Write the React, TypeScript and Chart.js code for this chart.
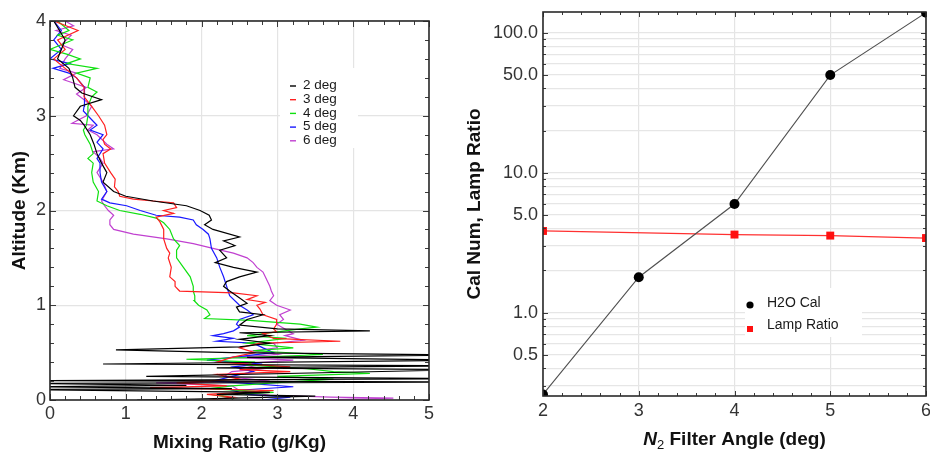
import { useEffect, useRef } from 'react';
import { Chart, registerables } from 'chart.js';

Chart.register(...registerables);

const FONT = '"Liberation Sans", Arial, Helvetica, sans-serif';

// ---------------- Left panel data: [mixing ratio g/kg, altitude km] ----------------
const profileLabels = ['2 deg', '3 deg', '4 deg', '5 deg', '6 deg'];
const profileColors = ['#000000', '#ff2020', '#10e010', '#1818ff', '#c040d0'];

const deg2 = [
  [1.15, 0.0], [1.9, 0.01], [3.5, 0.04], [2.2, 0.06], [2.9, 0.08], [-0.3, 0.11], [2.4, 0.12], [-0.3, 0.14],
  [1.8, 0.155], [-0.3, 0.175], [5.5, 0.19], [-0.3, 0.205], [5.5, 0.225], [1.27, 0.25], [3.75, 0.29], [5.5, 0.32],
  [2.2, 0.34], [5.5, 0.36], [0.7, 0.38], [5.5, 0.42], [2.6, 0.45], [5.5, 0.475], [2.4, 0.5], [0.87, 0.53],
  [2.5, 0.56], [2.9, 0.6], [2.5, 0.64], [2.9, 0.68], [2.5, 0.71], [4.22, 0.73], [3.0, 0.75], [2.5, 0.79],
  [2.6, 0.85], [2.81, 0.9], [2.5, 0.93], [2.46, 0.98], [2.6, 1.02], [2.46, 1.1], [2.37, 1.15], [2.29, 1.2],
  [2.33, 1.25], [2.5, 1.3], [2.73, 1.35], [2.42, 1.4], [2.18, 1.45], [2.33, 1.5], [2.24, 1.58], [2.44, 1.63],
  [2.29, 1.68], [2.5, 1.72], [2.15, 1.8], [2.04, 1.85], [2.13, 1.9], [2.1, 1.95], [1.98, 2.0], [1.8, 2.05],
  [1.36, 2.1], [1.0, 2.15], [0.84, 2.2], [0.7, 2.3], [0.75, 2.4], [0.68, 2.5], [0.62, 2.6], [0.58, 2.7],
  [0.53, 2.8], [0.45, 2.9], [0.4, 2.95], [0.31, 3.0], [0.4, 3.1], [0.68, 3.17], [0.42, 3.24], [0.33, 3.3],
  [0.3, 3.4], [0.25, 3.5], [0.1, 3.6], [0.2, 3.8], [0.05, 4.0],
];

const deg3 = [
  [2.1, 0.0], [2.42, 0.03], [2.07, 0.06], [2.95, 0.1], [1.32, 0.13], [2.33, 0.15], [1.67, 0.18], [2.5, 0.22],
  [2.2, 0.27], [3.17, 0.3], [2.5, 0.32], [3.17, 0.35], [2.2, 0.4], [2.4, 0.45], [2.7, 0.5], [2.5, 0.55],
  [2.77, 0.6], [3.83, 0.62], [2.95, 0.65], [2.81, 0.7], [2.99, 0.72], [2.95, 0.75], [2.99, 0.8], [2.99, 0.85],
  [2.81, 0.9], [2.77, 0.96], [2.73, 1.0], [2.84, 1.03], [2.6, 1.06], [2.73, 1.1], [2.42, 1.13], [1.71, 1.15],
  [1.65, 1.2], [1.65, 1.25], [1.58, 1.3], [1.6, 1.4], [1.56, 1.5], [1.58, 1.55], [1.54, 1.6], [1.5, 1.7],
  [1.5, 1.8], [1.45, 1.88], [1.4, 1.93], [1.63, 1.97], [1.5, 2.0], [1.67, 2.03], [1.63, 2.08], [1.36, 2.1],
  [1.1, 2.12], [0.92, 2.15], [0.9, 2.2], [0.85, 2.25], [0.86, 2.33], [0.8, 2.4], [0.72, 2.5], [0.7, 2.6],
  [0.8, 2.65], [0.72, 2.7], [0.7, 2.75], [0.75, 2.8], [0.72, 2.9], [0.64, 3.0], [0.55, 3.1], [0.45, 3.2],
  [0.45, 3.3], [0.35, 3.4], [0.2, 3.5], [0.05, 3.6], [0.2, 3.7], [0.1, 3.8], [0.37, 3.9], [0.05, 4.0],
];

const deg4 = [
  [2.4, 0.0], [2.42, 0.02], [2.2, 0.05], [2.95, 0.08], [2.11, 0.12], [2.4, 0.15], [2.95, 0.18], [3.74, 0.22],
  [3.0, 0.25], [4.22, 0.28], [3.74, 0.3], [3.39, 0.33], [2.6, 0.37], [2.68, 0.4], [1.8, 0.43], [2.7, 0.45],
  [3.6, 0.48], [2.68, 0.52], [3.21, 0.55], [2.6, 0.6], [3.12, 0.65], [2.6, 0.68], [3.0, 0.72], [3.3, 0.75],
  [3.52, 0.77], [3.3, 0.8], [2.99, 0.82], [2.64, 0.84], [2.04, 0.86], [2.11, 0.9], [2.07, 0.95], [1.96, 1.0],
  [1.9, 1.05], [1.91, 1.1], [1.89, 1.15], [1.89, 1.2], [1.85, 1.3], [1.76, 1.4], [1.67, 1.5], [1.67, 1.58],
  [1.71, 1.63], [1.63, 1.7], [1.58, 1.8], [1.5, 1.87], [1.4, 1.92], [1.19, 1.96], [0.92, 2.0], [0.75, 2.05],
  [0.62, 2.1], [0.64, 2.2], [0.57, 2.3], [0.55, 2.4], [0.57, 2.5], [0.5, 2.55], [0.57, 2.6], [0.53, 2.7],
  [0.46, 2.8], [0.44, 2.85], [0.48, 2.9], [0.5, 3.0], [0.5, 3.1], [0.55, 3.2], [0.62, 3.25], [0.5, 3.3],
  [0.53, 3.4], [0.35, 3.45], [0.62, 3.5], [0.22, 3.55], [0.4, 3.6], [0.22, 3.65], [0.0, 3.7], [0.3, 3.8],
  [0.1, 3.85], [0.25, 3.9], [0.1, 4.0],
];

const deg5 = [
  [2.8, 0.0], [3.17, 0.03], [2.6, 0.06], [2.42, 0.1], [3.21, 0.14], [2.7, 0.17], [2.15, 0.2], [2.4, 0.25],
  [2.68, 0.3], [2.42, 0.35], [2.8, 0.38], [2.07, 0.42], [2.4, 0.45], [2.95, 0.5], [2.81, 0.55], [2.68, 0.6],
  [2.2, 0.62], [2.42, 0.65], [2.15, 0.68], [2.29, 0.7], [2.42, 0.73], [2.5, 0.77], [2.46, 0.8], [2.5, 0.85],
  [2.68, 0.9], [2.6, 0.95], [2.5, 1.0], [2.37, 1.1], [2.33, 1.2], [2.29, 1.3], [2.24, 1.4], [2.2, 1.5],
  [2.13, 1.6], [2.11, 1.7], [2.09, 1.75], [2.02, 1.8], [1.93, 1.85], [1.89, 1.9], [1.71, 1.93], [1.4, 1.95],
  [1.19, 2.0], [1.01, 2.05], [0.79, 2.08], [0.68, 2.12], [0.75, 2.2], [0.68, 2.3], [0.66, 2.4], [0.66, 2.5],
  [0.62, 2.55], [0.7, 2.65], [0.62, 2.72], [0.7, 2.8], [0.53, 2.85], [0.62, 2.9], [0.5, 3.0], [0.44, 3.05],
  [0.45, 3.1], [0.46, 3.2], [0.45, 3.3], [0.35, 3.4], [0.25, 3.45], [0.04, 3.5], [0.26, 3.55], [0.0, 3.6],
  [0.15, 3.7], [0.05, 3.8], [0.15, 3.9], [0.05, 4.0],
];

const deg6 = [
  [3.5, 0.0], [4.53, 0.02], [3.7, 0.03], [2.9, 0.05], [2.5, 0.1], [2.4, 0.15], [1.4, 0.18], [2.9, 0.2],
  [2.3, 0.25], [2.4, 0.3], [2.8, 0.33], [2.5, 0.38], [3.21, 0.42], [2.4, 0.45], [3.0, 0.48], [2.68, 0.52],
  [3.0, 0.55], [2.95, 0.6], [3.34, 0.63], [3.1, 0.68], [3.21, 0.7], [3.1, 0.75], [2.99, 0.8], [3.08, 0.85],
  [3.03, 0.9], [3.17, 0.95], [2.99, 1.0], [2.9, 1.05], [2.95, 1.1], [2.92, 1.15], [2.9, 1.2], [2.84, 1.3],
  [2.81, 1.35], [2.73, 1.4], [2.68, 1.45], [2.6, 1.5], [2.42, 1.55], [2.15, 1.6], [1.89, 1.65], [1.54, 1.7],
  [1.1, 1.75], [0.84, 1.8], [0.79, 1.85], [0.79, 1.9], [0.84, 1.95], [0.77, 2.0], [0.72, 2.05], [0.68, 2.1],
  [0.75, 2.2], [0.7, 2.3], [0.62, 2.4], [0.7, 2.5], [0.66, 2.55], [0.57, 2.62], [0.84, 2.65], [0.75, 2.7],
  [0.62, 2.8], [0.5, 2.85], [0.57, 2.9], [0.29, 2.92], [0.48, 3.0], [0.55, 3.1], [0.48, 3.15], [0.35, 3.23],
  [0.48, 3.3], [0.18, 3.38], [0.35, 3.45], [0.13, 3.5], [0.2, 3.6], [0.3, 3.7], [0.15, 3.75], [0.28, 3.85],
  [0.08, 3.9], [0.31, 3.95], [0.2, 4.0],
];

const profiles = [deg2, deg3, deg4, deg5, deg6];

const mixTicks = [0, 1, 2, 3, 4, 5];
const altTicks = [0, 1, 2, 3, 4];

// ---------------- Right panel data ----------------
const filterAngles = [2, 3, 4, 5, 6];
const h2oCal = [0.26, 1.79, 5.97, 49.8, 139];
const lampAngles = [2, 4, 5, 6];
const lampRatio = [3.83, 3.61, 3.55, 3.41];
const angleTicks = [2, 3, 4, 5, 6];
const calGridValues = [
  0.3, 0.4, 0.5, 0.6, 0.7, 0.8, 0.9, 1, 2, 3, 4, 5, 6, 7, 8, 9, 10, 20, 30, 40, 50, 60, 70, 80, 90, 100,
];
const calLabelValues = [0.5, 1, 5, 10, 50, 100];

function steps(from: number, to: number, step: number) {
  const out: number[] = [];
  const n = Math.round((to - from) / step);
  for (let i = 0; i <= n; i++) out.push(+(from + i * step).toFixed(6));
  return out;
}

function makeFrame(cfg: any) {
  return {
    id: 'frame',
    afterDatasetsDraw(chart: any) {
      const { ctx, chartArea: a } = chart;
      const xs = chart.scales.x;
      const ys = chart.scales.y;
      ctx.save();
      ctx.strokeStyle = '#3a3a3a';
      ctx.lineWidth = 1;
      ctx.beginPath();
      const xt = (vals: number[], len: number) => {
        for (const v of vals) {
          const px = Math.round(xs.getPixelForValue(v)) + 0.5;
          if (cfg.xSides.includes('bottom')) { ctx.moveTo(px, a.bottom); ctx.lineTo(px, a.bottom - len); }
          if (cfg.xSides.includes('top')) { ctx.moveTo(px, a.top); ctx.lineTo(px, a.top + len); }
        }
      };
      const yt = (vals: number[], len: number) => {
        for (const v of vals) {
          const py = Math.round(ys.getPixelForValue(v)) + 0.5;
          if (cfg.ySides.includes('left')) { ctx.moveTo(a.left, py); ctx.lineTo(a.left + len, py); }
          if (cfg.ySides.includes('right')) { ctx.moveTo(a.right, py); ctx.lineTo(a.right - len, py); }
        }
      };
      xt(cfg.xMinor, cfg.minorLen);
      xt(cfg.xMajor, cfg.majorLen);
      yt(cfg.yMinor, cfg.minorLen);
      yt(cfg.yMajor, cfg.majorLen);
      ctx.stroke();
      ctx.lineWidth = 1.6;
      ctx.strokeStyle = '#2a2a2a';
      ctx.strokeRect(a.left, a.top, a.right - a.left, a.bottom - a.top);
      ctx.restore();
    },
  };
}

function makeLegend(cfg: any) {
  return {
    id: 'boxLegend',
    afterDatasetsDraw(chart: any) {
      const { ctx } = chart;
      ctx.save();
      ctx.fillStyle = '#ffffff';
      ctx.fillRect(cfg.box[0], cfg.box[1], cfg.box[2], cfg.box[3]);
      ctx.font = cfg.font;
      ctx.textBaseline = 'middle';
      ctx.textAlign = 'left';
      chart.data.datasets.forEach((ds: any, i: number) => {
        const y = cfg.y + i * cfg.rowH;
        const color = ds.borderColor;
        if (cfg.marker === 'dash') {
          ctx.strokeStyle = color;
          ctx.lineWidth = 1.4;
          ctx.beginPath();
          ctx.moveTo(cfg.markX - 3, y + 0.5);
          ctx.lineTo(cfg.markX + 3, y + 0.5);
          ctx.stroke();
        } else {
          ctx.fillStyle = ds.pointBackgroundColor;
          if (ds.pointStyle === 'rect') {
            ctx.fillRect(cfg.markX - 3, y + 1, 6, 6);
          } else {
            ctx.beginPath();
            ctx.arc(cfg.markX, y + 2, 3.6, 0, Math.PI * 2);
            ctx.fill();
          }
        }
        ctx.fillStyle = '#1a1a1a';
        ctx.fillText(ds.label, cfg.textX, y);
      });
      ctx.restore();
    },
  };
}

const xTitlePlugin = {
  id: 'richXTitle',
  afterDraw(chart: any) {
    const { ctx, chartArea: a } = chart;
    const parts = [
      { t: 'N', f: `italic bold 19px ${FONT}`, dy: 0 },
      { t: '2', f: `13px ${FONT}`, dy: 5 },
      { t: ' Filter Angle (deg)', f: `bold 19px ${FONT}`, dy: 0 },
    ];
    ctx.save();
    let total = 0;
    const widths = parts.map((p) => {
      ctx.font = p.f;
      const w = ctx.measureText(p.t).width;
      total += w;
      return w;
    });
    let x = (a.left + a.right) / 2 - total / 2;
    ctx.fillStyle = '#111';
    ctx.textBaseline = 'middle';
    ctx.textAlign = 'left';
    parts.forEach((p, i) => {
      ctx.font = p.f;
      ctx.fillText(p.t, x, 440 + p.dy);
      x += widths[i];
    });
    ctx.restore();
  },
};

const tickFont = { family: FONT, size: 18 };
const titleFont = { family: FONT, size: 19, weight: 'bold' as const };
const tickColor = '#333333';

function leftConfig(): any {
  return {
    type: 'scatter',
    data: {
      datasets: profiles.map((pts, i) => ({
        label: profileLabels[i],
        data: pts.map((p) => ({ x: p[0], y: p[1] })),
        showLine: true,
        borderColor: profileColors[i],
        borderWidth: 1.2,
        pointRadius: 0,
        tension: 0,
        clip: 0,
      })),
    },
    options: {
      animation: false,
      responsive: true,
      maintainAspectRatio: false,
      layout: { padding: { left: 0, top: 21, right: 31, bottom: 0 } },
      plugins: { legend: { display: false }, tooltip: { enabled: false } },
      scales: {
        x: {
          type: 'linear',
          position: 'bottom',
          min: 0,
          max: 5,
          afterBuildTicks: (s: any) => { s.ticks = mixTicks.map((v) => ({ value: v })); },
          afterFit: (s: any) => { s.height = 57; },
          grid: { color: '#e4e4e4', lineWidth: 1.2, drawTicks: false },
          border: { display: false },
          ticks: { font: tickFont, color: tickColor, padding: 3, maxRotation: 0, autoSkip: false },
          title: { display: true, text: 'Mixing Ratio (g/Kg)', font: titleFont, color: '#111', padding: { top: 0, bottom: 3 } },
        },
        y: {
          type: 'linear',
          position: 'left',
          min: 0,
          max: 4,
          afterBuildTicks: (s: any) => { s.ticks = altTicks.map((v) => ({ value: v })); },
          afterFit: (s: any) => { s.width = 50; s.paddingTop = 0; s.paddingBottom = 0; },
          grid: { color: '#e4e4e4', lineWidth: 1.2, drawTicks: false },
          border: { display: false },
          ticks: { font: tickFont, color: tickColor, padding: 4, autoSkip: false },
          title: { display: true, text: 'Altitude (Km)', font: titleFont, color: '#111', padding: { top: 8, bottom: 0 } },
        },
      },
    },
    plugins: [
      makeLegend({ box: [280, 68, 78, 80], font: `13.5px ${FONT}`, marker: 'dash', markX: 293, textX: 303, y: 85.5, rowH: 13.7 }),
      makeFrame({
        xMajor: mixTicks, xMinor: steps(0, 5, 0.2), yMajor: altTicks, yMinor: steps(0, 4, 0.2),
        xSides: ['bottom', 'top'], ySides: ['left', 'right'], majorLen: 6, minorLen: 4,
      }),
    ],
  };
}

function rightConfig(): any {
  const minor = calGridValues.filter((v) => !calLabelValues.some((l) => Math.abs(l - v) < 1e-9));
  return {
    type: 'scatter',
    data: {
      datasets: [
        {
          label: 'H2O Cal',
          data: filterAngles.map((a, i) => ({ x: a, y: h2oCal[i] })),
          showLine: true,
          borderColor: '#505050',
          borderWidth: 1.1,
          pointRadius: 5,
          pointBackgroundColor: '#000',
          pointBorderWidth: 0,
          pointStyle: 'circle',
          clip: 0,
        },
        {
          label: 'Lamp Ratio',
          data: lampAngles.map((a, i) => ({ x: a, y: lampRatio[i] })),
          showLine: true,
          borderColor: '#ff3030',
          borderWidth: 1.3,
          pointRadius: 5.6,
          pointBackgroundColor: '#ff1010',
          pointBorderWidth: 0,
          pointStyle: 'rect',
          clip: 0,
        },
      ],
    },
    options: {
      animation: false,
      responsive: true,
      maintainAspectRatio: false,
      layout: { padding: { left: 0, top: 12, right: 14, bottom: 0 } },
      plugins: { legend: { display: false }, tooltip: { enabled: false } },
      scales: {
        x: {
          type: 'linear',
          position: 'bottom',
          min: 2,
          max: 6,
          afterBuildTicks: (s: any) => { s.ticks = angleTicks.map((v) => ({ value: v })); },
          afterFit: (s: any) => { s.height = 61; },
          grid: { color: '#e4e4e4', lineWidth: 1.2, drawTicks: false },
          border: { display: false },
          ticks: { font: tickFont, color: tickColor, padding: 4, maxRotation: 0, autoSkip: false },
          title: { display: false },
        },
        y: {
          type: 'logarithmic',
          position: 'left',
          min: 0.2536,
          max: 140.5,
          afterBuildTicks: (s: any) => { s.ticks = calGridValues.map((v) => ({ value: v })); },
          afterFit: (s: any) => { s.width = 83; s.paddingTop = 0; s.paddingBottom = 0; },
          grid: { color: '#e6e6e6', lineWidth: 1.2, drawTicks: false },
          border: { display: false },
          ticks: {
            font: tickFont,
            color: tickColor,
            padding: 5,
            autoSkip: false,
            callback: (v: number) => (calLabelValues.some((l) => Math.abs(l - v) < 1e-9) ? Number(v).toFixed(1) : ''),
          },
          title: { display: true, text: 'Cal Num, Lamp Ratio', font: titleFont, color: '#111', padding: { top: 3, bottom: 0 } },
        },
      },
    },
    plugins: [
      makeLegend({ box: [285, 288, 117, 49], font: `14px ${FONT}`, marker: 'point', markX: 290, textX: 307, y: 303, rowH: 22 }),
      makeFrame({
        xMajor: angleTicks, xMinor: steps(2, 6, 0.2), yMajor: calLabelValues, yMinor: minor,
        xSides: ['bottom', 'top'], ySides: ['left', 'right'], majorLen: 5, minorLen: 3,
      }),
      xTitlePlugin,
    ],
  };
}

export default function App() {
  const leftRef = useRef<HTMLCanvasElement>(null);
  const rightRef = useRef<HTMLCanvasElement>(null);
  useEffect(() => {
    const c1 = new Chart(leftRef.current as HTMLCanvasElement, leftConfig());
    const c2 = new Chart(rightRef.current as HTMLCanvasElement, rightConfig());
    return () => {
      c1.destroy();
      c2.destroy();
    };
  }, []);
  return (
    <div style={{ position: 'fixed', left: 0, top: 0, width: 930, height: 457, overflow: 'hidden', background: '#fff' }}>
      <div style={{ position: 'absolute', left: 0, top: 0, width: 460, height: 457 }}>
        <canvas ref={leftRef} />
      </div>
      <div style={{ position: 'absolute', left: 460, top: 0, width: 480, height: 457 }}>
        <canvas ref={rightRef} />
      </div>
    </div>
  );
}
